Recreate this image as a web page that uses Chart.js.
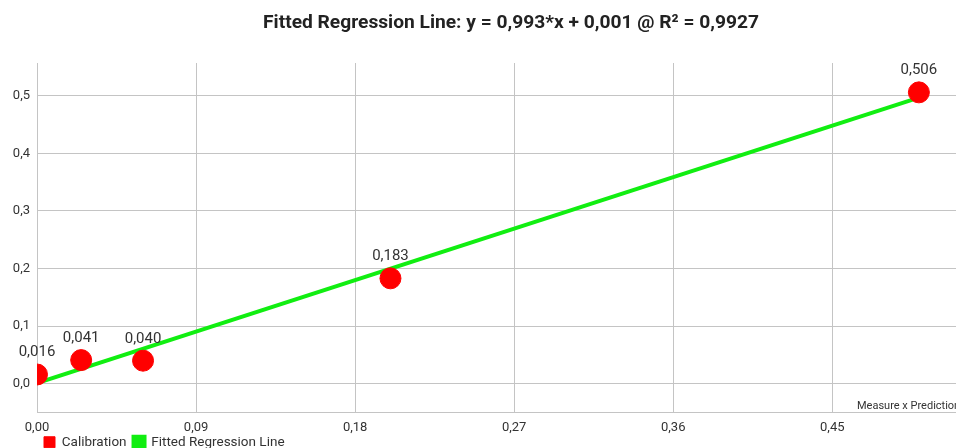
<!DOCTYPE html>
<html>
<head>
<meta charset="utf-8">
<script src="https://cdn.jsdelivr.net/npm/chart.js@4/dist/chart.umd.min.js"></script>
<style>
  html, body { margin: 0; padding: 0; background: #fff; overflow: hidden; }
  #wrap { width: 956px; height: 471px; }
</style>
</head>
<body>
<div id="wrap"><canvas id="regChart"></canvas></div>
<script>
// Calibration points (measure vs prediction)
const calX = [0.000, 0.025, 0.060, 0.200, 0.499];
const calY = [0.016, 0.041, 0.040, 0.183, 0.506];
// Fitted regression line end points
const fitX = [0.000, 0.499];
const fitY = [0.001, 0.497];
// Tick values
const xTicks = [0, 0.09, 0.18, 0.27, 0.36, 0.45];
const yTicks = [0, 0.1, 0.2, 0.3, 0.4, 0.5];

const titleText = 'Fitted Regression Line: y = 0,993*x + 0,001 @ R\u00b2 = 0,9927';

function comma(v, d) {
    return v.toFixed(d).replace('.', ',');
}

// Draws title, point value labels and the axis description
const extrasPlugin = {
    id: 'extras',
    afterLayout(chart) {
        // pull the legend up so it sits just under the x tick labels
        chart.legend.top -= 12;
        chart.legend.bottom -= 12;
    },
    afterDatasetsDraw(chart) {
        const ctx = chart.ctx;
        const meta = chart.getDatasetMeta(0);
        ctx.save();
        ctx.fillStyle = '#333';
        ctx.font = '15px Roboto';
        ctx.textAlign = 'center';
        ctx.textBaseline = 'alphabetic';
        meta.data.forEach(function (pt, i) {
            ctx.fillText(comma(calY[i], 3), pt.x, pt.y - 18);
        });
        ctx.restore();
    },
    afterDraw(chart) {
        const ctx = chart.ctx;
        ctx.save();
        ctx.fillStyle = '#222';
        ctx.font = 'bold 19.2px Roboto';
        ctx.textAlign = 'center';
        ctx.textBaseline = 'middle';
        ctx.fillText(titleText, 511, 23);
        ctx.fillStyle = '#333';
        ctx.font = '11px Roboto';
        ctx.textAlign = 'left';
        ctx.textBaseline = 'alphabetic';
        ctx.fillText('Measure x Prediction', 857, chart.chartArea.bottom - 4);
        ctx.restore();
    }
};

const ctx = document.getElementById('regChart').getContext('2d');
new Chart(ctx, {
    type: 'scatter',
    data: {
        datasets: [{
            label: 'Calibration',
            data: calX.map((x, i) => ({ x: x, y: calY[i] })),
            backgroundColor: '#ff0000',
            borderColor: '#ff0000',
            pointRadius: 10.5,
            pointHoverRadius: 10.5,
            order: 0
        }, {
            type: 'line',
            label: 'Fitted Regression Line',
            data: fitX.map((x, i) => ({ x: x, y: fitY[i] })),
            backgroundColor: '#11ee11',
            borderColor: '#11ee11',
            borderWidth: 4,
            pointRadius: 0,
            fill: false,
            order: 1
        }]
    },
    options: {
        responsive: true,
        maintainAspectRatio: false,
        animation: false,
        layout: {
            autoPadding: false,
            padding: { top: 63, right: 0, left: 0, bottom: 0 }
        },
        scales: {
            x: {
                type: 'linear',
                min: 0,
                max: 0.52,
                afterBuildTicks: function (scale) {
                    scale.ticks = xTicks.map(v => ({ value: v }));
                },
                afterFit: function (scale) {
                    scale.height = 28;
                    scale.paddingLeft = 0;
                    scale.paddingRight = 0;
                },
                grid: { color: '#c4c4c4', drawTicks: false },
                border: { color: '#c4c4c4' },
                ticks: {
                    color: '#333',
                    font: { family: 'Roboto', size: 13 },
                    padding: 7,
                    maxRotation: 0,
                    callback: v => comma(v, 2)
                }
            },
            y: {
                type: 'linear',
                min: -0.05,
                max: 0.557,
                afterBuildTicks: function (scale) {
                    scale.ticks = yTicks.map(v => ({ value: v }));
                },
                afterFit: function (scale) {
                    scale.width = 37;
                    scale.paddingTop = 0;
                    scale.paddingBottom = 0;
                },
                grid: { color: '#c4c4c4', drawTicks: false },
                border: { color: '#c4c4c4' },
                ticks: {
                    color: '#333',
                    font: { family: 'Roboto', size: 13 },
                    padding: 7,
                    callback: v => comma(v, 1)
                }
            }
        },
        plugins: {
            legend: {
                position: 'bottom',
                align: 'start',
                fullSize: false,
                labels: {
                    boxWidth: 11,
                    boxHeight: 11,
                    padding: 7,
                    color: '#333',
                    font: { family: 'Roboto', size: 13.5 }
                }
            },
            tooltip: { enabled: false }
        }
    },
    plugins: [extrasPlugin]
});
</script>
</body>
</html>
